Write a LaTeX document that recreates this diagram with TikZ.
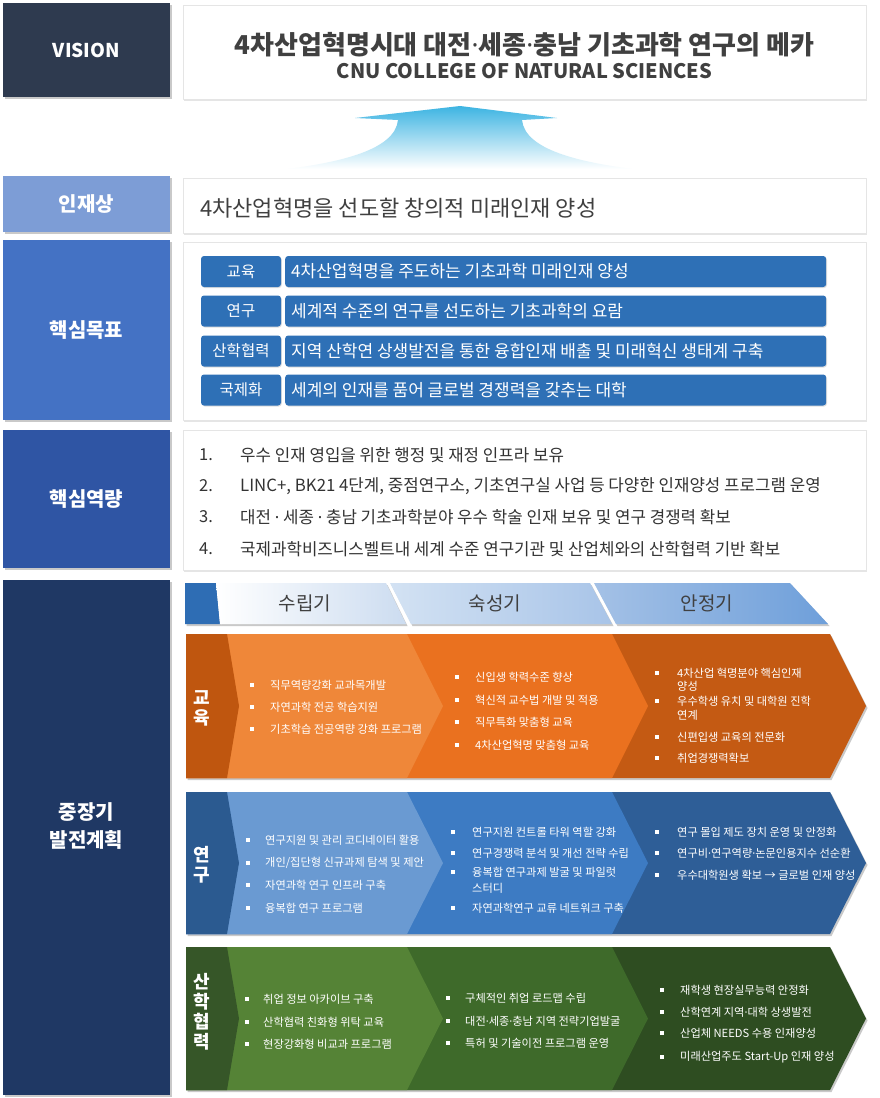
\documentclass[tikz,border=0pt]{standalone}
\usepackage{fontspec}
\setmainfont{Noto Sans CJK KR}
\newfontfamily\latinf{Noto Sans}
\newcommand{\md}{{\latinf ·}}
\usetikzlibrary{shadows,positioning}
% 색상
\definecolor{visionC}{HTML}{2E3A4F}
\definecolor{injaeC}{HTML}{7D9DD6}
\definecolor{mokpyoC}{HTML}{4472C4}
\definecolor{yeokC}{HTML}{2F55A4}
\definecolor{planC}{HTML}{1F3864}
\definecolor{goalC}{HTML}{2E70B6}
\definecolor{txtC}{HTML}{404040}
\definecolor{arrowC}{HTML}{3DB4E2}
\definecolor{phaseC}{HTML}{2E6DB4}
\definecolor{phA}{HTML}{CCDCF0}
\definecolor{phB}{HTML}{D3E2F3}
\definecolor{phC}{HTML}{A8C4E8}
\definecolor{phD}{HTML}{A4C1E6}
\definecolor{phE}{HTML}{6E9FDA}
\definecolor{eduL}{HTML}{BF560F}
\definecolor{eduA}{HTML}{EF8739}
\definecolor{eduB}{HTML}{EA711F}
\definecolor{eduC}{HTML}{C45A13}
\definecolor{resL}{HTML}{2B5A90}
\definecolor{resA}{HTML}{6A9AD2}
\definecolor{resB}{HTML}{3D7BC3}
\definecolor{resC}{HTML}{2E5E97}
\definecolor{indL}{HTML}{365628}
\definecolor{indA}{HTML}{558336}
\definecolor{indB}{HTML}{3E6A2A}
\definecolor{indC}{HTML}{2E4D21}

\begin{document}
\begin{tikzpicture}[x=1pt, y=-1pt, line join=round,
	shadowed/.style={drop shadow={shadow xshift=1.5pt, shadow yshift=-2pt, opacity=.35, fill=black!60}},
	headbox/.style={shadowed, inner sep=0pt, minimum width=167pt, text=white, font=\fontsize{20}{24}\selectfont\bfseries},
	whitebox/.style={fill=white, draw=black!10, inner sep=0pt, minimum width=683pt, drop shadow={shadow xshift=1pt, shadow yshift=-1.5pt, opacity=.2}},
	goalbox/.style={fill=goalC, rounded corners=3pt, inner sep=0pt, minimum height=31pt, text=white, font=\fontsize{15.5}{18}\selectfont, drop shadow={shadow xshift=.8pt, shadow yshift=-1pt, opacity=.25}},
	body/.style={anchor=west, inner sep=0pt, text=txtC},
	item/.style={anchor=west, inner sep=0pt, text=white, font=\fontsize{11.2}{13}\selectfont},
	phase/.style={text=txtC, font=\fontsize{19}{22}\selectfont},
	sidelab/.style={text=white, align=center, inner sep=0pt, font=\fontsize{18}{20}\selectfont\bfseries}]
	\useasboundingbox (0,0) rectangle (879,1098);
	\fill[white] (0,0) rectangle (879,1098);
	% VISION
	\node[headbox, fill=visionC, minimum height=94pt, font=\fontsize{19}{22}\selectfont\bfseries] (vision) at (86.5,50) {VISION};
	\node[whitebox, minimum height=94pt] (visbox) at (524.5,52) {};
	\node[text=txtC, font=\fontsize{26}{30}\selectfont\bfseries] (title) at (524.5,45) {4차산업혁명시대 대전\md 세종\md 충남 기초과학 연구의 메카};
	\node[text=txtC, font=\fontsize{20}{24}\selectfont\bfseries] (subtitle) at (524.5,71) {CNU COLLEGE OF NATURAL SCIENCES};
	% 화살표
	\shade[top color=arrowC, bottom color=white] (460,106) -- (557,118) -- (522,120)
		.. controls (525,150) and (580,162) .. (632,169) -- (288,169)
		.. controls (340,162) and (395,150) .. (398,120) -- (355,118) -- cycle;
	% 인재상
	\node[headbox, fill=injaeC, minimum height=56pt] (injae) at (86.5,204) {인재상};
	\node[whitebox, minimum height=55pt] (injaebox) at (524.5,205.5) {};
	\node[body, font=\fontsize{22}{26}\selectfont] (injaetxt) at (200,208) {4차산업혁명을 선도할 창의적 미래인재 양성};
	% 핵심목표
	\node[headbox, fill=mokpyoC, minimum height=180pt] (mokpyo) at (86.5,330) {핵심목표};
	\node[whitebox, minimum height=178pt] (mokpyobox) at (524.5,331) {};
	\foreach \y/\a/\b [count=\i] in {271.5/교육/4차산업혁명을 주도하는 기초과학 미래인재 양성,
		311/연구/세계적 수준의 연구를 선도하는 기초과학의 요람,
		351/산학협력/지역 산학연 상생발전을 통한 융합인재 배출 및 미래혁신 생태계 구축,
		390/국제화/세계의 인재를 품어 글로벌 경쟁력을 갖추는 대학}{
		\node[goalbox, minimum width=80pt] (gl\i) at (241,\y) {\a};
		\node[goalbox, minimum width=541pt, anchor=west] (gb\i) at (285,\y) {};
		\node[body, text=white, font=\fontsize{17}{20}\selectfont] (gt\i) at (291,\y) {\b};
	}
	% 핵심역량
	\node[headbox, fill=yeokC, minimum height=138pt] (yeok) at (86.5,499) {핵심역량};
	\node[whitebox, minimum height=140pt] (yeokbox) at (524.5,500) {};
	\foreach \y/\t [count=\i] in {455/{우수 인재 영입을 위한 행정 및 재정 인프라 보유},
		486/{LINC+, BK21 4단계, 중점연구소, 기초연구실 사업 등 다양한 인재양성 프로그램 운영},
		517/{대전 \md\ 세종 \md\ 충남 기초과학분야 우수 학술 인재 보유 및 연구 경쟁력 확보},
		549/{국제과학비즈니스벨트내 세계 수준 연구기관 및 산업체와의 산학협력 기반 확보}}{
		\node[body, text=black!80, font=\fontsize{16.5}{19}\selectfont] (yn\i) at (199,\y) {\i.};
		\node[body, text=black!80, font=\fontsize{16.8}{19}\selectfont] (yt\i) at (240,\y) {\t};
	}
	% 중장기 발전계획
	\node[shadowed, fill=planC, minimum width=167pt, minimum height=515pt, inner sep=0pt] (plan) at (86.5,837.5) {};
	\node[sidelab, font=\fontsize{20}{28}\selectfont\bfseries] (plantxt) at (86.5,826) {중장기\\발전계획};
	% 단계 머리
	\fill[phaseC, shadowed] (185,583) -- (216,583) -- (220,624) -- (185,624) -- cycle;
	\shade[left color=white, right color=phA, shadowed] (216,583) -- (386,583) -- (406,624) -- (220,624) -- cycle;
	\shade[left color=phB, right color=phC, shadowed] (390,583) -- (590,583) -- (612,624) -- (411,624) -- cycle;
	\shade[left color=phD, right color=phE, shadowed] (594,583) -- (790,583) -- (828,624) -- (616,624) -- cycle;
	\node[phase] (ph1) at (305,603) {수립기};
	\node[phase] (ph2) at (495,603) {숙성기};
	\node[phase] (ph3) at (707,603) {안정기};
	% 띠 (교육, 연구, 산학협력)
	\foreach \t/\b/\cl/\ca/\cb/\cc in {634/778/eduL/eduA/eduB/eduC, 792/934/resL/resA/resB/resC, 947/1090/indL/indA/indB/indC}{
		\pgfmathsetmacro\m{(\t+\b)/2}
		\fill[\cc, shadowed] (186,\t) -- (830,\t) -- (866,\m) -- (830,\b) -- (186,\b) -- cycle;
		\fill[\cb] (186,\t) -- (612,\t) -- (648,\m) -- (612,\b) -- (186,\b) -- cycle;
		\fill[\ca] (186,\t) -- (407,\t) -- (443,\m) -- (407,\b) -- (186,\b) -- cycle;
		\fill[\cl] (186,\t) -- (227,\t) -- (239,\m) -- (227,\b) -- (186,\b) -- cycle;
	}
	\node[sidelab] (edulab) at (202,708) {교\\육};
	\node[sidelab] (reslab) at (202,865) {연\\구};
	\node[sidelab] (indlab) at (202,1012) {산\\학\\협\\력};
	% 교육
	\foreach \y/\t [count=\i] in {685/직무역량강화 교과목개발, 707/자연과학 전공 학습지원, 729/기초학습 전공역량 강화 프로그램}{
		\fill[white] (252,\y) ++(-1.7,-1.7) rectangle ++(3.4,3.4);
		\node[item] (ea\i) at (270,\y) {\t};
	}
	\foreach \y/\t [count=\i] in {677/신입생 학력수준 향상, 700/혁신적 교수법 개발 및 적용, 722/직무특화 맞춤형 교육, 745/4차산업혁명 맞춤형 교육}{
		\fill[white] (457,\y) ++(-1.7,-1.7) rectangle ++(3.4,3.4);
		\node[item] (eb\i) at (475,\y) {\t};
	}
	\foreach \y/\t [count=\i] in {673/4차산업 혁명분야 핵심인재, 701/우수학생 유치 및 대학원 진학, 737/신편입생 교육의 전문화, 758/취업경쟁력확보}{
		\fill[white] (657,\y) ++(-1.7,-1.7) rectangle ++(3.4,3.4);
		\node[item] (ec\i) at (677,\y) {\t};
	}
	\node[item] (ec1b) at (677,686) {양성};
	\node[item] (ec2b) at (677,715) {연계};
	% 연구
	\foreach \y/\t [count=\i] in {840/연구지원 및 관리 코디네이터 활용, 863/{개인/집단형 신규과제 탐색 및 제안}, 885/자연과학 연구 인프라 구축, 908/융복합 연구 프로그램}{
		\fill[white] (248,\y) ++(-1.7,-1.7) rectangle ++(3.4,3.4);
		\node[item] (ra\i) at (265,\y) {\t};
	}
	\foreach \y/\t [count=\i] in {832/연구지원 컨트롤 타워 역할 강화, 853/연구경쟁력 분석 및 개선 전략 수립, 872/융복합 연구과제 발굴 및 파일럿, 908/자연과학연구 교류 네트워크 구축}{
		\fill[white] (453,\y) ++(-1.7,-1.7) rectangle ++(3.4,3.4);
		\node[item] (rb\i) at (472,\y) {\t};
	}
	\node[item] (rb3b) at (472,888) {스터디};
	\foreach \y/\t [count=\i] in {832/연구 몰입 제도 장치 운영 및 안정화, 853/연구비\md 연구역량\md 논문인용지수 선순환, 875/우수대학원생 확보 → 글로벌 인재 양성}{
		\fill[white] (657,\y) ++(-1.7,-1.7) rectangle ++(3.4,3.4);
		\node[item] (rc\i) at (677,\y) {\t};
	}
	% 산학협력
	\foreach \y/\t [count=\i] in {999/취업 정보 아카이브 구축, 1022/산학협력 친화형 위탁 교육, 1044/현장강화형 비교과 프로그램}{
		\fill[white] (247,\y) ++(-1.7,-1.7) rectangle ++(3.4,3.4);
		\node[item] (ia\i) at (263,\y) {\t};
	}
	\foreach \y/\t [count=\i] in {998/구체적인 취업 로드맵 수립, 1021/대전\md 세종\md 충남 지역 전략기업발굴, 1043/특허 및 기술이전 프로그램 운영}{
		\fill[white] (448,\y) ++(-1.7,-1.7) rectangle ++(3.4,3.4);
		\node[item] (ib\i) at (465,\y) {\t};
	}
	\foreach \y/\t [count=\i] in {990/재학생 현장실무능력 안정화, 1012/산학연계 지역\md 대학 상생발전, 1033/산업체 NEEDS 수용 인재양성, 1057/미래산업주도 Start-Up 인재 양성}{
		\fill[white] (662,\y) ++(-1.7,-1.7) rectangle ++(3.4,3.4);
		\node[item] (ic\i) at (680,\y) {\t};
	}
\end{tikzpicture}
\end{document}
